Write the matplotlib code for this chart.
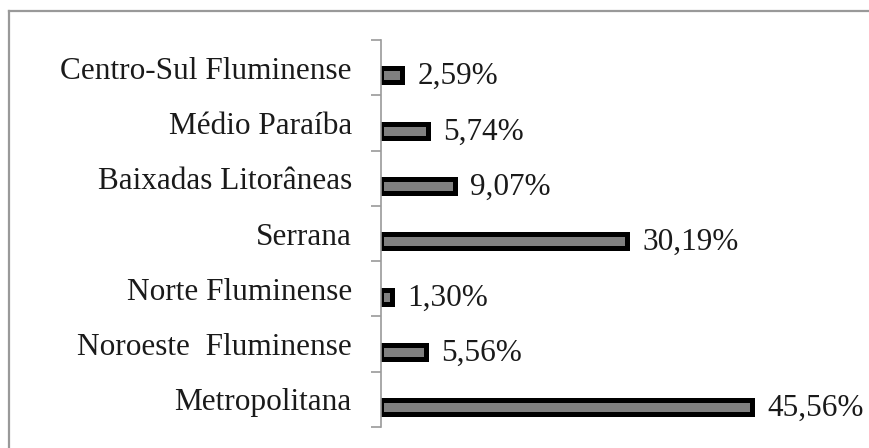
import matplotlib
matplotlib.use("Agg")
import matplotlib.pyplot as plt
from matplotlib.lines import Line2D

categories = ["Centro-Sul Fluminense", "Médio Paraíba", "Baixadas Litorâneas",
              "Serrana", "Norte Fluminense", "Noroeste  Fluminense", "Metropolitana"]
values = [2.59, 5.74, 9.07, 30.19, 1.30, 5.56, 45.56]
value_labels = ["2,59%", "5,74%", "9,07%", "30,19%", "1,30%", "5,56%", "45,56%"]

plt.rcParams['font.family'] = ['Liberation Serif', 'DejaVu Serif']

W, H = 869, 448
fig = plt.figure(figsize=(W / 100, H / 100), dpi=100)
ax = fig.add_axes([381 / W, 1 - 427 / H, 407.5 / W, 387 / H])

n = len(categories)
pos = list(range(n))
bar_pos = [p + 0.14 for p in pos]
ax.barh(bar_pos, values, height=0.253, color='#808080', edgecolor='black',
        linewidth=3.6)
ax.set_xlim(0, 50)
ax.set_ylim(n - 0.5, -0.5)

for y, v, lab in zip(bar_pos, values, value_labels):
    ax.annotate(lab, (v, y), xytext=(11, -1), textcoords='offset points',
                va='center', ha='left', fontsize=22.5, color='#1a1a1a')

ax.set_yticks(pos)
ax.set_yticklabels(categories, fontsize=22.5, color='#1a1a1a')
ax.tick_params(axis='y', which='major', length=0, pad=21)
ax.set_yticks([p - 0.5 for p in pos] + [n - 0.5], minor=True)
ax.tick_params(axis='y', which='minor', length=7.5, width=1.2, color='#9a9a9a')
ax.set_xticks([])
for s in ['top', 'right', 'bottom']:
    ax.spines[s].set_visible(False)
ax.spines['left'].set_color('#9a9a9a')
ax.spines['left'].set_linewidth(1.2)

fig.add_artist(Line2D([9 / W, 9 / W], [0, 1 - 11 / H], transform=fig.transFigure,
                      color='#999999', linewidth=1.6))
fig.add_artist(Line2D([9 / W, 1], [1 - 11 / H, 1 - 11 / H], transform=fig.transFigure,
                      color='#999999', linewidth=1.6))

fig.savefig("out.png", dpi=100)
